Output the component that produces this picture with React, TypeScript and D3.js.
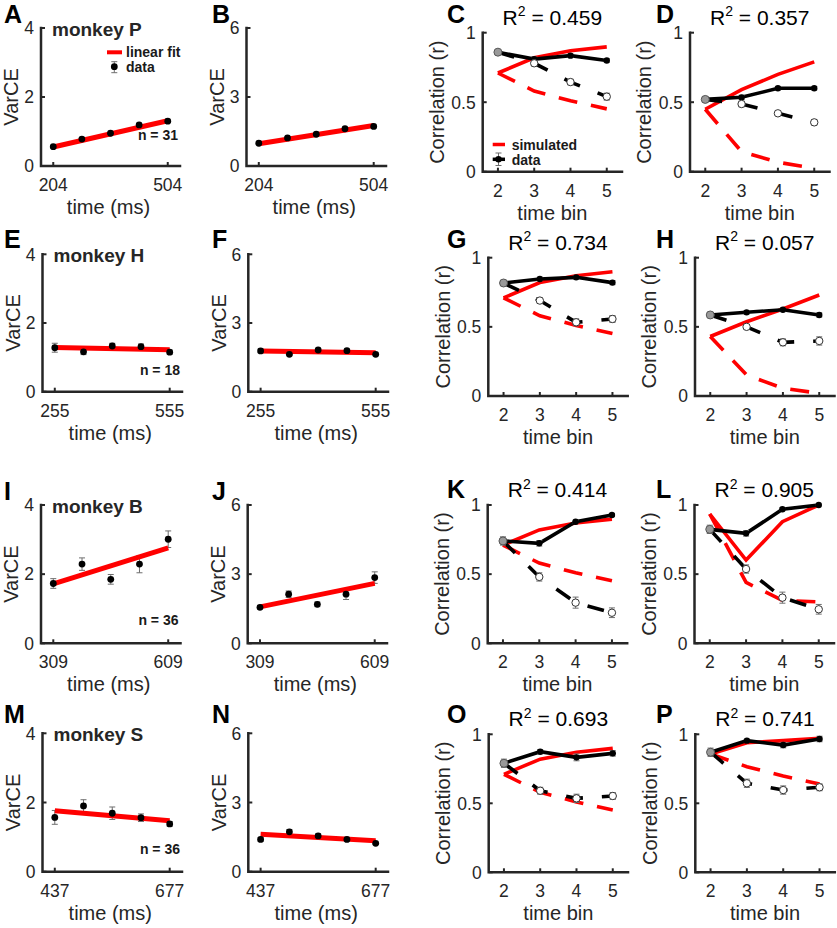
import React from 'react';
import * as d3 from 'd3';

const FONT = "'Liberation Sans', Arial, Helvetica, sans-serif";
const AX = '#262626';
const RED = '#ff0000';

// ---------- VarCE data ----------
const timesP = [204, 279, 354, 429, 504];
const timesH = [255, 330, 405, 480, 555];
const timesB = [309, 384, 459, 534, 609];
const timesS = [437, 497, 557, 617, 677];

const varA = [0.56, 0.78, 0.95, 1.19, 1.3];
const errA = [0.03, 0.03, 0.03, 0.04, 0.04];
const fitA = [0.55, 1.31];
const varB = [0.99, 1.22, 1.38, 1.62, 1.72];
const errB = [0.05, 0.05, 0.05, 0.06, 0.06];
const fitB = [0.97, 1.76];

const varE = [1.28, 1.16, 1.33, 1.31, 1.15];
const errE = [0.13, 0.08, 0.08, 0.08, 0.06];
const fitE = [1.29, 1.22];
const varF = [1.78, 1.63, 1.82, 1.79, 1.63];
const errF = [0.08, 0.06, 0.07, 0.07, 0.06];
const fitF = [1.78, 1.7];

const varI = [1.73, 2.29, 1.85, 2.29, 3.01];
const errI = [0.14, 0.18, 0.14, 0.25, 0.24];
const fitI = [1.72, 2.76];
const varJ = [1.56, 2.13, 1.69, 2.13, 2.85];
const errJ = [0.08, 0.14, 0.1, 0.23, 0.25];
const fitJ = [1.58, 2.6];

const varM = [1.57, 1.9, 1.69, 1.56, 1.38];
const errM = [0.2, 0.18, 0.18, 0.11, 0.07];
const fitM = [1.76, 1.47];
const varN = [1.4, 1.73, 1.55, 1.4, 1.23];
const errN = [0.08, 0.1, 0.09, 0.07, 0.05];
const fitN = [1.62, 1.34];

const ticksLeft = [0, 2, 4];
const ticksRight = [0, 3, 6];
const ticksCorr = [0, 0.5, 1];

// ---------- Correlation data ----------
const bins = [2, 3, 4, 5];
const simSolidCGKO = [0.71, 0.82, 0.87, 0.898];
const simDashedCGKO = [0.71, 0.58, 0.51, 0.452];

const solidC = [0.86, 0.81, 0.835, 0.8];
const solidErrC = [0.015, 0.015, 0.012, 0.012];
const dashedC = [0.86, 0.78, 0.645, 0.54];
const dashedErrC = [0.015, 0.02, 0.02, 0.025];

const solidD = [0.52, 0.535, 0.6, 0.6];
const solidErrD = [0.02, 0.015, 0.012, 0.012];
const dashedD = [0.52, 0.487, 0.42, 0.355];
const dashedErrD = [0.02, 0.02, 0.015, 0.02];
const simSolidD = [0.449, 0.59, 0.7, 0.79];
const simDashedD = [0.449, 0.144, 0.068, 0.024];

const solidG = [0.817, 0.846, 0.858, 0.82];
const solidErrG = [0.02, 0.012, 0.012, 0.015];
const dashedG = [0.817, 0.69, 0.533, 0.557];
const dashedErrG = [0.02, 0.02, 0.025, 0.025];

const solidH = [0.586, 0.605, 0.624, 0.586];
const solidErrH = [0.02, 0.012, 0.012, 0.015];
const dashedH = [0.586, 0.5, 0.388, 0.398];
const dashedErrH = [0.02, 0.015, 0.025, 0.03];
const simSolidH = [0.43, 0.537, 0.629, 0.73];
const simDashedH = [0.43, 0.152, 0.056, 0.02];

const solidK = [0.74, 0.723, 0.879, 0.928];
const solidErrK = [0.03, 0.02, 0.01, 0.01];
const dashedK = [0.74, 0.48, 0.294, 0.221];
const dashedErrK = [0.03, 0.03, 0.04, 0.035];

const solidL = [0.824, 0.795, 0.969, 1.0];
const solidErrL = [0.03, 0.02, 0.01, 0.005];
const dashedL = [0.824, 0.537, 0.33, 0.246];
const dashedErrL = [0.03, 0.03, 0.04, 0.035];
const simSolidL = [0.935, 0.602, 0.879, 1.0];
const simDashedL = [0.935, 0.44, 0.31, 0.3];

const solidO = [0.79, 0.874, 0.833, 0.862];
const solidErrO = [0.03, 0.015, 0.025, 0.02];
const dashedO = [0.79, 0.591, 0.536, 0.553];
const dashedErrO = [0.03, 0.025, 0.03, 0.025];

const solidP = [0.87, 0.954, 0.922, 0.966];
const solidErrP = [0.03, 0.01, 0.02, 0.02];
const dashedP = [0.87, 0.645, 0.596, 0.616];
const dashedErrP = [0.03, 0.03, 0.03, 0.025];
const simSolidP = [0.857, 0.939, 0.954, 0.971];
const simDashedP = [0.857, 0.765, 0.698, 0.64];

// ---------- panel configs ----------
type VarCfg = {
  letter: string; lx: number; ly: number;
  x0: number; x1: number; top: number; bottom: number;
  times: number[]; vals: number[]; errs: number[]; fit: number[];
  yMax: number; yTicks: number[];
  monkey?: string; nText?: string; nY?: number; legend?: boolean;
};

type CorrCfg = {
  letter: string; lx: number; ly: number;
  x0: number; x1: number; top: number; bottom: number;
  r2: string;
  solid: number[]; solidErr: number[]; dashed: number[]; dashedErr: number[];
  simSolid: number[]; simDashed: number[]; legend?: boolean;
};

const varPanels: VarCfg[] = [
  { letter: 'A', lx: 4, ly: 23, x0: 41, x1: 180, top: 28, bottom: 166, times: timesP, vals: varA, errs: errA, fit: fitA, yMax: 4, yTicks: ticksLeft, monkey: 'monkey P', nText: 'n = 31', nY: 140, legend: true },
  { letter: 'B', lx: 212, ly: 23, x0: 246.5, x1: 386, top: 28, bottom: 166, times: timesP, vals: varB, errs: errB, fit: fitB, yMax: 6, yTicks: ticksRight },
  { letter: 'E', lx: 4, ly: 248, x0: 42.5, x1: 182, top: 254.3, bottom: 391.7, times: timesH, vals: varE, errs: errE, fit: fitE, yMax: 4, yTicks: ticksLeft, monkey: 'monkey H', nText: 'n = 18', nY: 375 },
  { letter: 'F', lx: 212, ly: 248, x0: 248.3, x1: 388, top: 254.3, bottom: 391.7, times: timesH, vals: varF, errs: errF, fit: fitF, yMax: 6, yTicks: ticksRight },
  { letter: 'I', lx: 4, ly: 500, x0: 41, x1: 180.5, top: 505, bottom: 643.3, times: timesB, vals: varI, errs: errI, fit: fitI, yMax: 4, yTicks: ticksLeft, monkey: 'monkey B', nText: 'n = 36', nY: 625 },
  { letter: 'J', lx: 212, ly: 500, x0: 247.7, x1: 387, top: 505, bottom: 643.3, times: timesB, vals: varJ, errs: errJ, fit: fitJ, yMax: 6, yTicks: ticksRight },
  { letter: 'M', lx: 4, ly: 723, x0: 42.5, x1: 182, top: 733.3, bottom: 871.7, times: timesS, vals: varM, errs: errM, fit: fitM, yMax: 4, yTicks: ticksLeft, monkey: 'monkey S', nText: 'n = 36', nY: 854 },
  { letter: 'N', lx: 212, ly: 723, x0: 248.3, x1: 388, top: 733.3, bottom: 871.7, times: timesS, vals: varN, errs: errN, fit: fitN, yMax: 6, yTicks: ticksRight },
];

const corrPanels: CorrCfg[] = [
  { letter: 'C', lx: 447, ly: 23, x0: 482.7, x1: 622, top: 32.7, bottom: 171.7, r2: '0.459', solid: solidC, solidErr: solidErrC, dashed: dashedC, dashedErr: dashedErrC, simSolid: simSolidCGKO, simDashed: simDashedCGKO, legend: true },
  { letter: 'D', lx: 656, ly: 23, x0: 690, x1: 829.5, top: 32.7, bottom: 171.7, r2: '0.357', solid: solidD, solidErr: solidErrD, dashed: dashedD, dashedErr: dashedErrD, simSolid: simSolidD, simDashed: simDashedD },
  { letter: 'G', lx: 447, ly: 248, x0: 488.3, x1: 627.7, top: 257.7, bottom: 396, r2: '0.734', solid: solidG, solidErr: solidErrG, dashed: dashedG, dashedErr: dashedErrG, simSolid: simSolidCGKO, simDashed: simDashedCGKO },
  { letter: 'H', lx: 656, ly: 248, x0: 695, x1: 834.5, top: 257.7, bottom: 396, r2: '0.057', solid: solidH, solidErr: solidErrH, dashed: dashedH, dashedErr: dashedErrH, simSolid: simSolidH, simDashed: simDashedH },
  { letter: 'K', lx: 447, ly: 498, x0: 487.7, x1: 627.2, top: 505, bottom: 643.3, r2: '0.414', solid: solidK, solidErr: solidErrK, dashed: dashedK, dashedErr: dashedErrK, simSolid: simSolidCGKO, simDashed: simDashedCGKO },
  { letter: 'L', lx: 656, ly: 498, x0: 694.5, x1: 834, top: 505, bottom: 643.3, r2: '0.905', solid: solidL, solidErr: solidErrL, dashed: dashedL, dashedErr: dashedErrL, simSolid: simSolidL, simDashed: simDashedL },
  { letter: 'O', lx: 447, ly: 723, x0: 488.7, x1: 628, top: 734.3, bottom: 872.3, r2: '0.693', solid: solidO, solidErr: solidErrO, dashed: dashedO, dashedErr: dashedErrO, simSolid: simSolidCGKO, simDashed: simDashedCGKO },
  { letter: 'P', lx: 656, ly: 723, x0: 695.3, x1: 834.8, top: 734.3, bottom: 872.3, r2: '0.741', solid: solidP, solidErr: solidErrP, dashed: dashedP, dashedErr: dashedErrP, simSolid: simSolidP, simDashed: simDashedP },
];

const TICK_FS = 17.5;
const LABEL_FS = 20;

function ErrBar({ x, y1, y2 }: { x: number; y1: number; y2: number }) {
  const c = 3;
  return (
    <g stroke="#6e6e6e" strokeWidth={1} fill="none">
      <line x1={x} x2={x} y1={y1} y2={y2} />
      <line x1={x - c} x2={x + c} y1={y1} y2={y1} />
      <line x1={x - c} x2={x + c} y1={y2} y2={y2} />
    </g>
  );
}

function Axes({ x0, x1, top, bottom }: { x0: number; x1: number; top: number; bottom: number }) {
  return (
    <path d={`M${x0},${top}V${bottom}H${x1}`} fill="none" stroke={AX} strokeWidth={2.5} strokeLinecap="square" strokeLinejoin="miter" />
  );
}

function VarPanel({ c }: { c: VarCfg }) {
  const t0 = c.times[0];
  const t1 = c.times[c.times.length - 1];
  const pad = (t1 - t0) * 0.107;
  const x = d3.scaleLinear().domain([t0 - pad, t1 + pad]).range([c.x0, c.x1]);
  const y = d3.scaleLinear().domain([0, c.yMax]).range([c.bottom, c.top]);
  const fitPath = d3.line<number>().x((_, i) => x(i === 0 ? t0 : t1)).y((d) => y(d))(c.fit) || '';
  const midY = (c.top + c.bottom) / 2;
  return (
    <g>
      <text x={c.lx} y={c.ly} fontSize={25} fontWeight="bold" fill="#000">{c.letter}</text>
      <Axes x0={c.x0} x1={c.x1} top={c.top} bottom={c.bottom} />
      {c.yTicks.map((t) => (
        <g key={t}>
          <line x1={c.x0} x2={c.x0 + 4} y1={y(t)} y2={y(t)} stroke={AX} strokeWidth={2} />
          <text x={c.x0 - 7} y={y(t)} dy="0.36em" textAnchor="end" fontSize={TICK_FS} fill={AX}>{t}</text>
        </g>
      ))}
      {[t0, t1].map((t) => (
        <g key={t}>
          <line x1={x(t)} x2={x(t)} y1={c.bottom} y2={c.bottom - 4} stroke={AX} strokeWidth={2} />
          <text x={x(t)} y={c.bottom + 25} textAnchor="middle" fontSize={TICK_FS} fill={AX}>{t}</text>
        </g>
      ))}
      <text x={(c.x0 + c.x1) / 2 - 2} y={c.bottom + 48} textAnchor="middle" fontSize={LABEL_FS} fill={AX}>time (ms)</text>
      <text transform={`translate(${c.x0 - 30},${midY}) rotate(-90)`} dy="0.36em" textAnchor="middle" fontSize={LABEL_FS} fill={AX}>VarCE</text>
      {c.vals.map((v, i) => (
        <ErrBar key={i} x={x(c.times[i])} y1={y(v - c.errs[i])} y2={y(v + c.errs[i])} />
      ))}
      <path d={fitPath} fill="none" stroke={RED} strokeWidth={5} />
      {c.vals.map((v, i) => (
        <circle key={i} cx={x(c.times[i])} cy={y(v)} r={3.4} fill="#000" />
      ))}
      {c.monkey && (
        <text x={c.x0 + 11} y={c.top + 7.5} fontSize={19} fontWeight="bold" fill={AX}>{c.monkey}</text>
      )}
      {c.nText && (
        <text x={c.x1 - 2} y={c.nY} textAnchor="end" fontSize={14} fontWeight="bold" fill="#1a1a1a">{c.nText}</text>
      )}
      {c.legend && (
        <g>
          <line x1={107} x2={122} y1={52.3} y2={52.3} stroke={RED} strokeWidth={4} />
          <text x={126} y={57} fontSize={14} fontWeight="bold" fill="#1a1a1a">linear fit</text>
          <ErrBar x={114.3} y1={61.7} y2={72.7} />
          <circle cx={114.3} cy={66.7} r={3.4} fill="#000" />
          <text x={126} y={71.7} fontSize={14} fontWeight="bold" fill="#1a1a1a">data</text>
        </g>
      )}
    </g>
  );
}

function CorrPanel({ c }: { c: CorrCfg }) {
  const x = d3.scaleLinear().domain([1.58, 5.42]).range([c.x0, c.x1]);
  const y = d3.scaleLinear().domain([0, 1]).range([c.bottom, c.top]);
  const line = d3.line<number>().x((_, i) => x(bins[i])).y((d) => y(d));
  const midY = (c.top + c.bottom) / 2;
  const cx = (c.x0 + c.x1) / 2;
  return (
    <g>
      <text x={c.lx} y={c.ly} fontSize={25} fontWeight="bold" fill="#000">{c.letter}</text>
      <text x={cx} y={c.top - 8} textAnchor="middle" fontSize={21} fill="#000">
        R<tspan dy={-8.5} fontSize={14}>2</tspan><tspan dy={8.5}> = {c.r2}</tspan>
      </text>
      <Axes x0={c.x0} x1={c.x1} top={c.top} bottom={c.bottom} />
      {ticksCorr.map((t) => (
        <g key={t}>
          <line x1={c.x0} x2={c.x0 + 4} y1={y(t)} y2={y(t)} stroke={AX} strokeWidth={2} />
          <text x={c.x0 - 7} y={y(t)} dy="0.36em" textAnchor="end" fontSize={TICK_FS} fill={AX}>{t}</text>
        </g>
      ))}
      {bins.map((b) => (
        <g key={b}>
          <line x1={x(b)} x2={x(b)} y1={c.bottom} y2={c.bottom - 4} stroke={AX} strokeWidth={2} />
          <text x={x(b)} y={c.bottom + 25} textAnchor="middle" fontSize={TICK_FS} fill={AX}>{b}</text>
        </g>
      ))}
      <text x={cx} y={c.bottom + 48} textAnchor="middle" fontSize={LABEL_FS} fill={AX}>time bin</text>
      <text transform={`translate(${c.x0 - 46},${midY}) rotate(-90)`} dy="0.36em" textAnchor="middle" fontSize={LABEL_FS} fill={AX}>Correlation (r)</text>

      <path d={line(c.simDashed) || ''} fill="none" stroke={RED} strokeWidth={3.6} strokeDasharray="19,14" />
      <path d={line(c.simSolid) || ''} fill="none" stroke={RED} strokeWidth={3.6} strokeLinejoin="miter" />
      <path d={line(c.dashed) || ''} fill="none" stroke="#000" strokeWidth={3.6} strokeDasharray="17,19" />
      <path d={line(c.solid) || ''} fill="none" stroke="#000" strokeWidth={3.6} />

      {c.solid.map((v, i) => (
        <ErrBar key={'s' + i} x={x(bins[i])} y1={y(v - c.solidErr[i])} y2={y(v + c.solidErr[i])} />
      ))}
      {c.dashed.map((v, i) => i > 0 && (
        <ErrBar key={'d' + i} x={x(bins[i])} y1={y(v - c.dashedErr[i])} y2={y(v + c.dashedErr[i])} />
      ))}
      {c.solid.map((v, i) => i > 0 && (
        <circle key={'sc' + i} cx={x(bins[i])} cy={y(v)} r={3.2} fill="#000" />
      ))}
      {c.dashed.map((v, i) => i > 0 && (
        <circle key={'dc' + i} cx={x(bins[i])} cy={y(v)} r={3.7} fill="#fff" stroke="#333" strokeWidth={1} />
      ))}
      <circle cx={x(bins[0])} cy={y(c.solid[0])} r={4} fill="#999" stroke="#555" strokeWidth={1} />

      {c.legend && (
        <g>
          <line x1={492.7} x2={505} y1={144.5} y2={144.5} stroke={RED} strokeWidth={3.5} />
          <text x={511.7} y={150} fontSize={14} fontWeight="bold" fill="#1a1a1a">simulated</text>
          <line x1={492.7} x2={505} y1={159.3} y2={159.3} stroke="#000" strokeWidth={3.5} />
          <ErrBar x={498.5} y1={153} y2={165.5} />
          <circle cx={498.5} cy={159.3} r={3.2} fill="#000" />
          <text x={511.7} y={165} fontSize={14} fontWeight="bold" fill="#1a1a1a">data</text>
        </g>
      )}
    </g>
  );
}

export default function App() {
  return (
    <svg
      width={837}
      height={928}
      viewBox="0 0 837 928"
      style={{ position: 'absolute', left: 0, top: 0, background: '#fff', fontFamily: FONT }}
    >
      <rect width={837} height={928} fill="#fff" />
      {varPanels.map((c) => (
        <VarPanel key={c.letter} c={c} />
      ))}
      {corrPanels.map((c) => (
        <CorrPanel key={c.letter} c={c} />
      ))}
    </svg>
  );
}
